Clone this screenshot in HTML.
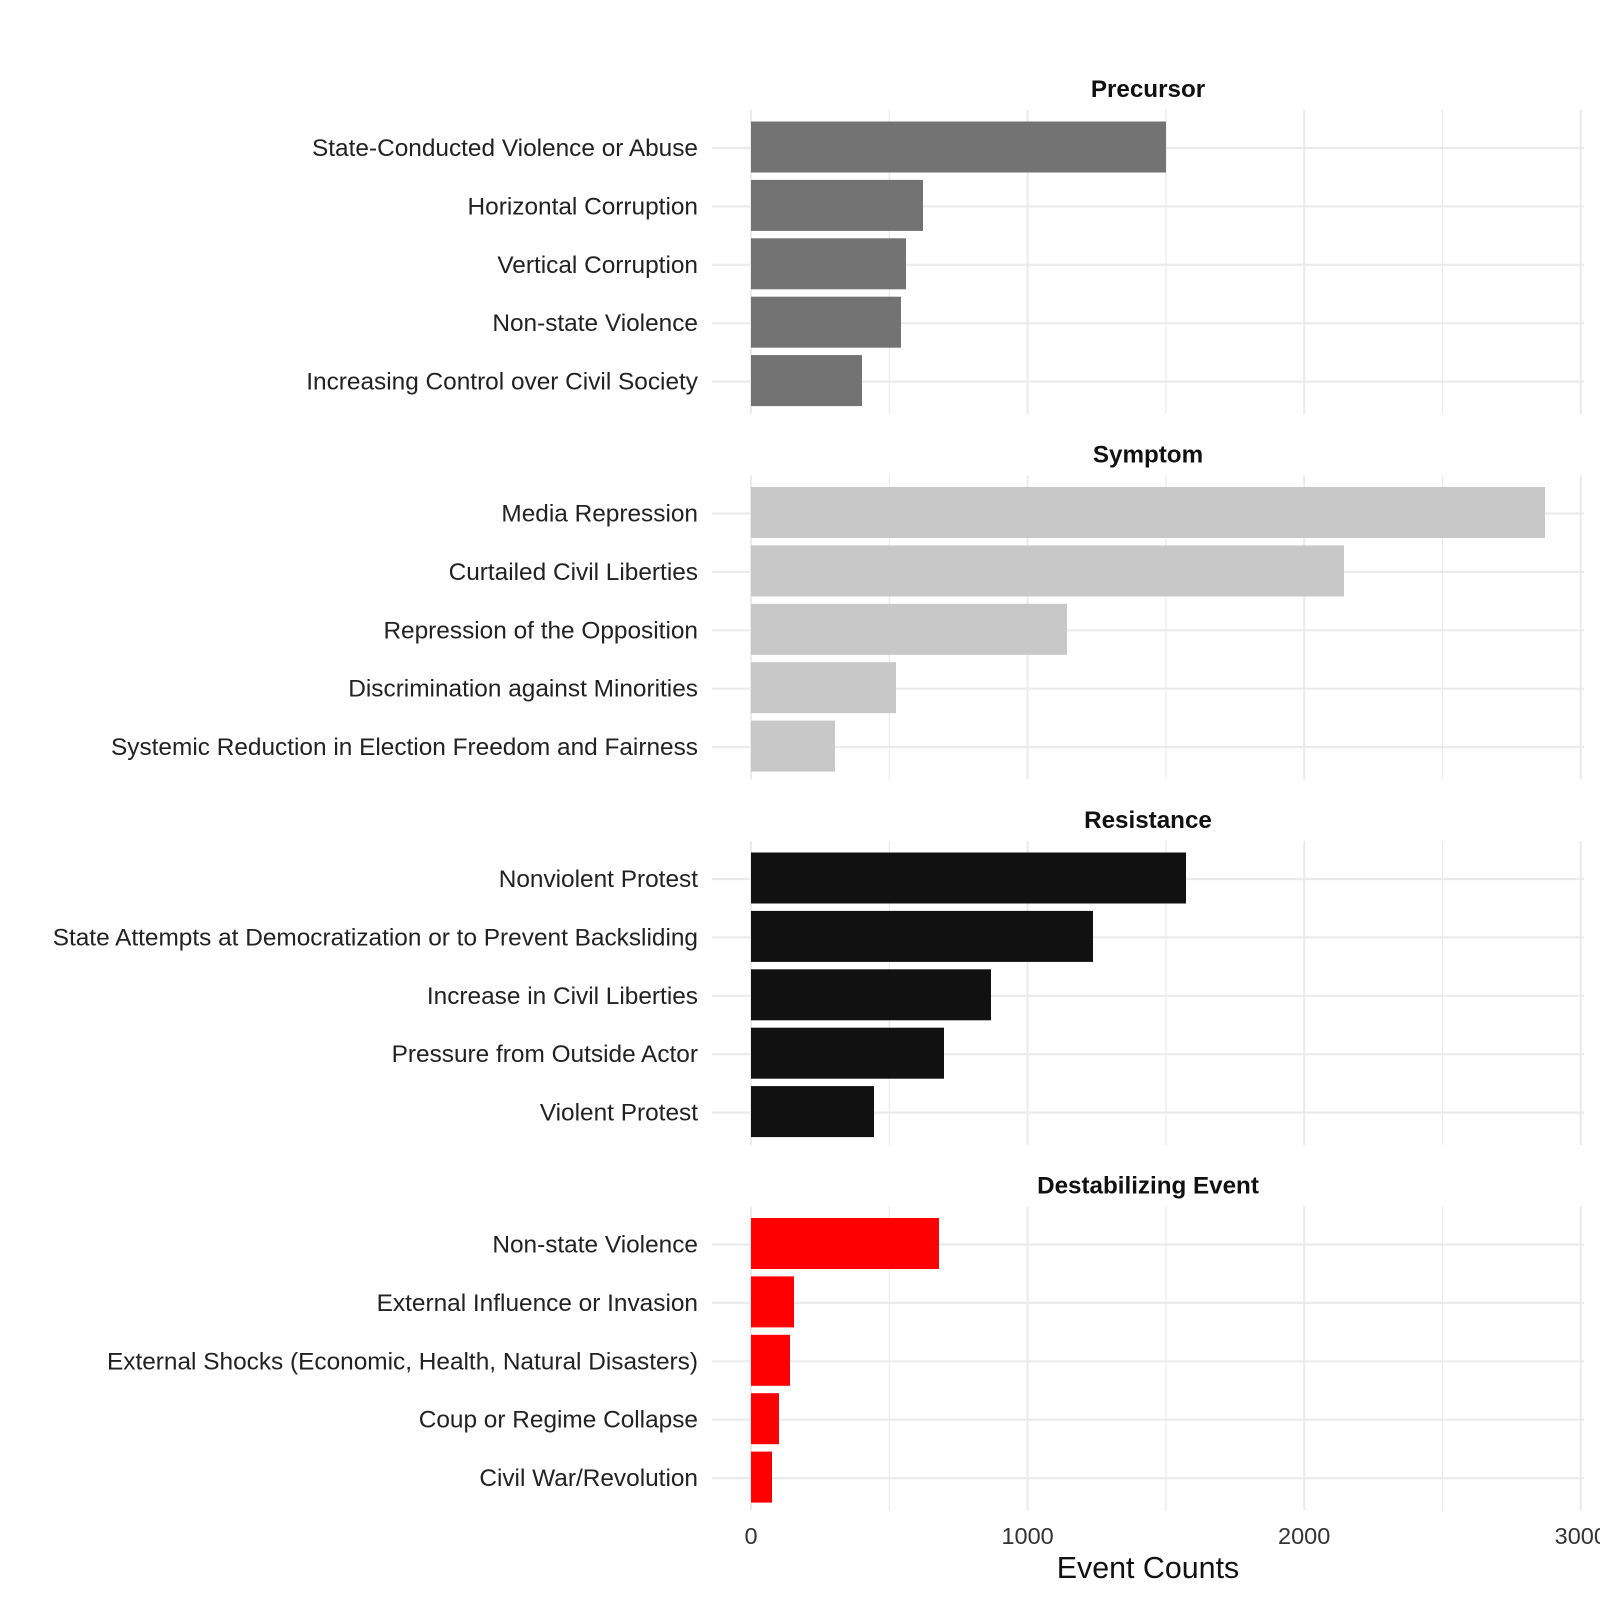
<!DOCTYPE html>
<html><head><meta charset="utf-8"><style>
html,body{margin:0;padding:0;background:#fff;}
svg{display:block;font-family:"Liberation Sans",sans-serif;}
.l{font-size:24.4px;fill:#222;text-anchor:end;}
.t{font-size:24.2px;font-weight:bold;fill:#111;text-anchor:middle;}
.k{font-size:23.5px;fill:#333;text-anchor:middle;}
</style></head><body>
<svg width="1600" height="1600" viewBox="0 0 1600 1600" xmlns="http://www.w3.org/2000/svg">
<defs>
<g id="grid">
<g stroke="#ebebeb" stroke-width="2">
<line x1="751" x2="751" y1="0" y2="304"/>
<line x1="1027.6" x2="1027.6" y1="0" y2="304"/>
<line x1="1304.2" x2="1304.2" y1="0" y2="304"/>
<line x1="1580.8" x2="1580.8" y1="0" y2="304"/>
</g>
<g stroke="#ebebeb" stroke-width="1.2">
<line x1="889.3" x2="889.3" y1="0" y2="304"/>
<line x1="1165.9" x2="1165.9" y1="0" y2="304"/>
<line x1="1442.5" x2="1442.5" y1="0" y2="304"/>
</g>
<g stroke="#ebebeb" stroke-width="2.2">
<line x1="712" x2="1584" y1="38" y2="38"/>
<line x1="712" x2="1584" y1="96.4" y2="96.4"/>
<line x1="712" x2="1584" y1="154.8" y2="154.8"/>
<line x1="712" x2="1584" y1="213.2" y2="213.2"/>
<line x1="712" x2="1584" y1="271.6" y2="271.6"/>
</g>
</g>
</defs>
<use href="#grid" x="0" y="110"/>
<use href="#grid" x="0" y="475.5"/>
<use href="#grid" x="0" y="841"/>
<use href="#grid" x="0" y="1206.5"/>

<g transform="translate(0,-1)">
<g fill="#737373">
<rect x="751" y="122.5" width="415" height="51"/>
<rect x="751" y="180.9" width="172" height="51"/>
<rect x="751" y="239.3" width="155" height="51"/>
<rect x="751" y="297.7" width="150" height="51"/>
<rect x="751" y="356.1" width="111" height="51"/>
</g>
<g fill="#c8c8c8">
<rect x="751" y="488" width="794" height="51"/>
<rect x="751" y="546.4" width="593" height="51"/>
<rect x="751" y="604.8" width="316" height="51"/>
<rect x="751" y="663.2" width="145" height="51"/>
<rect x="751" y="721.6" width="84" height="51"/>
</g>
<g fill="#111111">
<rect x="751" y="853.5" width="435" height="51"/>
<rect x="751" y="911.9" width="342" height="51"/>
<rect x="751" y="970.3" width="240" height="51"/>
<rect x="751" y="1028.7" width="193" height="51"/>
<rect x="751" y="1087.1" width="123" height="51"/>
</g>
<g fill="#ff0000">
<rect x="751" y="1219" width="188" height="51"/>
<rect x="751" y="1277.4" width="43" height="51"/>
<rect x="751" y="1335.8" width="39" height="51"/>
<rect x="751" y="1394.2" width="28" height="51"/>
<rect x="751" y="1452.6" width="21" height="51"/>
</g>
</g>

<text class="t" x="1148" y="97">Precursor</text>
<text class="t" x="1148" y="462.5">Symptom</text>
<text class="t" x="1148" y="828">Resistance</text>
<text class="t" x="1148" y="1193.5">Destabilizing Event</text>

<text class="l" x="698" y="156">State-Conducted Violence or Abuse</text>
<text class="l" x="698" y="214.4">Horizontal Corruption</text>
<text class="l" x="698" y="272.8">Vertical Corruption</text>
<text class="l" x="698" y="331.2">Non-state Violence</text>
<text class="l" x="698" y="389.6">Increasing Control over Civil Society</text>

<text class="l" x="698" y="521.5">Media Repression</text>
<text class="l" x="698" y="579.9">Curtailed Civil Liberties</text>
<text class="l" x="698" y="638.3">Repression of the Opposition</text>
<text class="l" x="698" y="696.7">Discrimination against Minorities</text>
<text class="l" x="698" y="755.1">Systemic Reduction in Election Freedom and Fairness</text>

<text class="l" x="698" y="887">Nonviolent Protest</text>
<text class="l" x="698" y="945.4">State Attempts at Democratization or to Prevent Backsliding</text>
<text class="l" x="698" y="1003.8">Increase in Civil Liberties</text>
<text class="l" x="698" y="1062.2">Pressure from Outside Actor</text>
<text class="l" x="698" y="1120.6">Violent Protest</text>

<text class="l" x="698" y="1252.5">Non-state Violence</text>
<text class="l" x="698" y="1310.9">External Influence or Invasion</text>
<text class="l" x="698" y="1369.3">External Shocks (Economic, Health, Natural Disasters)</text>
<text class="l" x="698" y="1427.7">Coup or Regime Collapse</text>
<text class="l" x="698" y="1486.1">Civil War/Revolution</text>

<text class="k" x="751" y="1544">0</text>
<text class="k" x="1027.6" y="1544">1000</text>
<text class="k" x="1304.2" y="1544">2000</text>
<text class="k" x="1580.8" y="1544">3000</text>
<text x="1148" y="1578" text-anchor="middle" font-size="30.4" fill="#111">Event Counts</text>
</svg>
</body></html>
